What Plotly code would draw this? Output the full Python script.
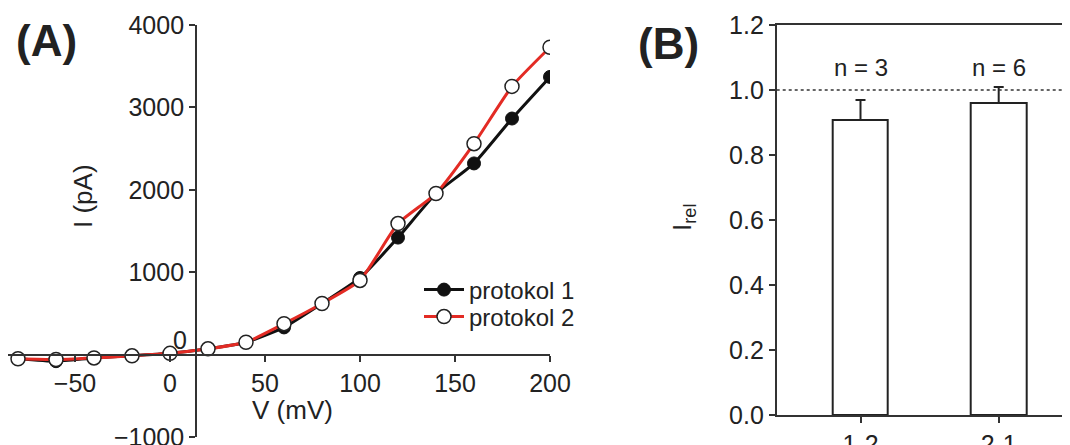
import plotly.graph_objects as go

# ---------------- data ----------------
voltage = [-80, -60, -40, -20, 0, 20, 40, 60, 80, 100, 120, 140, 160, 180, 200]
protokol1 = [-50, -80, -40, -15, 15, 70, 150, 330, 620, 930, 1420, 1955, 2320, 2865, 3370]
protokol2 = [-50, -60, -40, -15, 15, 70, 150, 375, 620, 900, 1590, 1955, 2560, 3255, 3730]

x_ticks_a = [-50, 0, 50, 100, 150, 200]
y_ticks_a = [-1000, 1000, 2000, 3000, 4000]

bar_categories = ["1-2", "2-1"]
bar_values = [0.908, 0.960]
bar_errors = [0.061, 0.049]
bar_n = ["n = 3", "n = 6"]
y_ticks_b = [0.0, 0.2, 0.4, 0.6, 0.8, 1.0, 1.2]

W, H = 1070, 445
OX, OY = 8, 8  # page offset of the figure inside the browser window
FONT = "Liberation Sans, Arial, sans-serif"
TXT = "#222222"
AX = "#333333"
FS = 25

def px(xp):
    return (xp - OX) / W

def py(yp):
    return (H - (yp - OY)) / H

fig = go.Figure()

fig.add_trace(go.Scatter(
    x=voltage, y=protokol1, name="protokol 1", mode="lines+markers",
    line=dict(color="#111111", width=3, shape="spline", smoothing=0.5),
    marker=dict(symbol="circle", size=13, color="#111111", line=dict(color="#111111", width=1)),
    xaxis="x", yaxis="y", legend="legend",
))
fig.add_trace(go.Scatter(
    x=voltage, y=protokol2, name="protokol 2", mode="lines+markers",
    line=dict(color="#e32b24", width=3, shape="spline", smoothing=0.5),
    marker=dict(symbol="circle", size=14, color="white", line=dict(color="#222222", width=1.5)),
    xaxis="x", yaxis="y", legend="legend2",
))

fig.add_trace(go.Bar(
    x=bar_categories, y=bar_values, width=0.4, showlegend=False,
    marker=dict(color="white", line=dict(color="#222222", width=2)),
    error_y=dict(type="data", array=bar_errors, arrayminus=[0] * len(bar_errors),
                 symmetric=False, color="#222222", thickness=2, width=5),
    xaxis="x2", yaxis="y2",
))

common_axis = dict(showline=True, linecolor=AX, linewidth=1.8, ticks="outside",
                   ticklen=6, tickwidth=1.8, tickcolor=AX, showgrid=False, zeroline=False,
                   automargin=False,
                   tickfont=dict(family=FONT, size=FS, color=TXT))

legend_common = dict(xanchor="left", yanchor="middle", bgcolor="rgba(0,0,0,0)",
                     font=dict(family=FONT, size=24, color=TXT), itemwidth=40)

# x-range of panel A: 0 mV sits at screen x=170, 1.9 px per mV, axis starts at the figure edge
xa_left = (OX - 170) / 1.9
# x-range of panel B: categories 138.2 px apart, first at screen x=860.5
xb_left = (776.7 - 860.5) / 138.2
xb_right = (W + OX - 860.5) / 138.2

fig.update_layout(
    width=W, height=H,
    margin=dict(l=0, r=0, t=0, b=0, autoexpand=False),
    plot_bgcolor="white", paper_bgcolor="white",
    font=dict(family=FONT, size=FS, color=TXT),
    xaxis=dict(domain=[px(OX), px(550)], range=[xa_left, 200], anchor="free", position=py(354.6),
               tickvals=x_ticks_a, **common_axis),
    yaxis=dict(domain=[py(437), py(25)], range=[-1000, 4000], anchor="free", position=px(196),
               tickvals=y_ticks_a, **common_axis),
    xaxis2=dict(domain=[px(776.7), 1], range=[xb_left, xb_right], anchor="y2", type="category",
                mirror=True, **common_axis),
    yaxis2=dict(domain=[py(415), py(25)], range=[0, 1.2], anchor="x2",
                tickvals=y_ticks_b, tickformat=".1f", **common_axis),
    legend=dict(x=px(419), y=py(290), **legend_common),
    legend2=dict(x=px(419), y=py(317), **legend_common),
    showlegend=True,
    bargap=0,
)

fig.add_shape(type="line", xref="x2 domain", yref="y2", x0=0, x1=1, y0=1.0, y1=1.0,
              line=dict(color=AX, width=1.5, dash="dot"))

annotations = [
    dict(text="<b>(A)</b>", x=px(46), y=py(40), font=dict(size=44)),
    dict(text="<b>(B)</b>", x=px(668), y=py(44), font=dict(size=44)),
    dict(text="V (mV)", x=px(292), y=py(410), font=dict(size=26)),
    dict(text="I (pA)", x=px(83), y=py(196), textangle=-90, font=dict(size=26)),
    dict(text="I<sub>rel</sub>", x=px(683), y=py(218), textangle=-90, font=dict(size=26)),
    dict(text="0", x=px(180), y=py(340), font=dict(size=FS)),
]
for a in annotations:
    a.update(xref="paper", yref="paper", showarrow=False, xanchor="center", yanchor="middle")
    fig.add_annotation(**a)

for cat, label in zip(bar_categories, bar_n):
    fig.add_annotation(text=label, x=cat, y=1.07, xref="x2", yref="y2", showarrow=False,
                       font=dict(size=FS - 1), xanchor="center", yanchor="middle")

fig.write_html("out.html")
